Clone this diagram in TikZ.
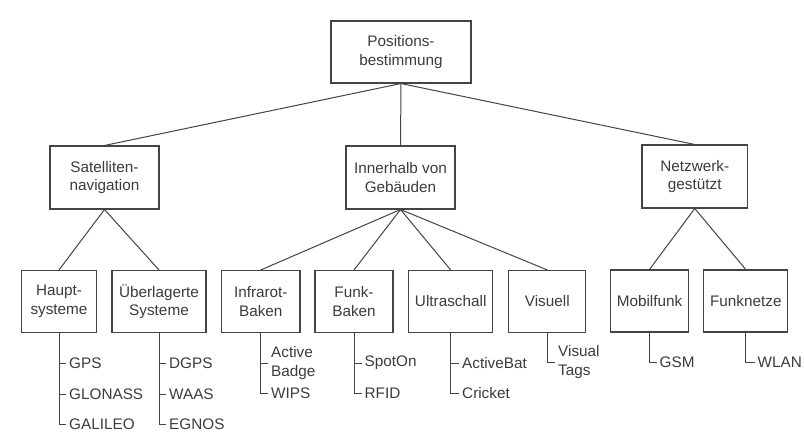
\documentclass[tikz,border=0pt]{standalone}
\usepackage{fontspec}
\setmainfont{Liberation Sans}
\definecolor{ink}{HTML}{444444}
\definecolor{txt}{HTML}{3C3C3C}
\begin{document}
\begin{tikzpicture}[x=1pt,y=-1pt,
  font=\fontsize{15.3}{18.5}\selectfont,
  box/.style={draw=ink,line width=1.05pt,text=txt,align=center,inner sep=0pt,minimum height=62pt},
  item/.style={anchor=west,text=txt,inner sep=3pt,align=left},
  conn/.style={draw=ink,line width=1pt},
  tick/.style={draw=ink,line width=0.8pt}]
\useasboundingbox[fill=white] (0,0) rectangle (804,432);
% boxes
\node[box,minimum width=140pt] (top) at (401,52) {Positions-\\bestimmung};
\node[box,minimum width=109pt,minimum height=63pt] (sat) at (104.5,177.5) {Satelliten-\\navigation};
\node[box,minimum width=109pt,minimum height=63pt] (inn) at (400.5,177.5) {Innerhalb von\\Gebäuden};
\node[box,minimum width=105.5pt,minimum height=63pt] (netz) at (694.75,176.5) {Netzwerk-\\gestützt};
\node[box,minimum width=75pt] (haupt) at (59,301.5) {Haupt-\\systeme};
\node[box,minimum width=94pt] (ueber) at (159,301.5) {Überlagerte\\Systeme};
\node[box,minimum width=78.4pt] (infra) at (260.8,301.5) {Infrarot-\\Baken};
\node[box,minimum width=78pt] (funk) at (354,301.5) {Funk-\\Baken};
\node[box,minimum width=84pt] (ultra) at (450.7,301.5) {Ultraschall};
\node[box,minimum width=77.3pt] (vis) at (547.3,301.5) {Visuell};
\node[box,minimum width=77.6pt] (mobil) at (649.5,301) {Mobilfunk};
\node[box,minimum width=83.7pt] (funkn) at (745.8,301) {Funknetze};
% tree connectors
\draw[conn] (top.south) -- (sat.north);
\draw[conn] (top.south) -- (inn.north);
\draw[conn] (top.south) -- (netz.north);
\draw[conn] (sat.south) -- (haupt.north);
\draw[conn] (sat.south) -- (ueber.north);
\draw[conn] (inn.south) -- (infra.north);
\draw[conn] (inn.south) -- (funk.north);
\draw[conn] (inn.south) -- (ultra.north);
\draw[conn] (inn.south) -- (vis.north);
\draw[conn] (netz.south) -- (mobil.north);
\draw[conn] (netz.south) -- (funkn.north);
% leaf items
\node[item] (gps) at (66,363) {GPS};
\node[item] (glonass) at (66,394) {GLONASS};
\node[item] (galileo) at (66,424) {GALILEO};
\node[item] (dgps) at (166,363) {DGPS};
\node[item] (waas) at (166,394) {WAAS};
\node[item] (egnos) at (166,424) {EGNOS};
\node[item] (badge) at (268,363) {Active\\Badge};
\node[item] (wips) at (268,393.5) {WIPS};
\node[item] (spoton) at (361.5,363) {SpotOn};
\node[item] (rfid) at (361.5,393.5) {RFID};
\node[item] (abat) at (459,363) {ActiveBat};
\node[item] (cricket) at (459,393.5) {Cricket};
\node[item] (vtags) at (555,362) {Visual\\Tags};
\node[item] (gsm) at (656.5,362) {GSM};
\node[item] (wlan) at (754.5,362) {WLAN};
% leaf lines
\draw[tick] (haupt.south) |- (galileo.west);
\draw[tick] (haupt.south |- gps.west) -- (gps.west);
\draw[tick] (haupt.south |- glonass.west) -- (glonass.west);
\draw[tick] (ueber.south) |- (egnos.west);
\draw[tick] (ueber.south |- dgps.west) -- (dgps.west);
\draw[tick] (ueber.south |- waas.west) -- (waas.west);
\draw[tick] (infra.south) |- (wips.west);
\draw[tick] (infra.south |- badge.west) -- (badge.west);
\draw[tick] (funk.south) |- (rfid.west);
\draw[tick] (funk.south |- spoton.west) -- (spoton.west);
\draw[tick] (ultra.south) |- (cricket.west);
\draw[tick] (ultra.south |- abat.west) -- (abat.west);
\draw[tick] (vis.south) |- (vtags.west);
\draw[tick] (mobil.south) |- (gsm.west);
\draw[tick] (funkn.south) |- (wlan.west);
\end{tikzpicture}
\end{document}
